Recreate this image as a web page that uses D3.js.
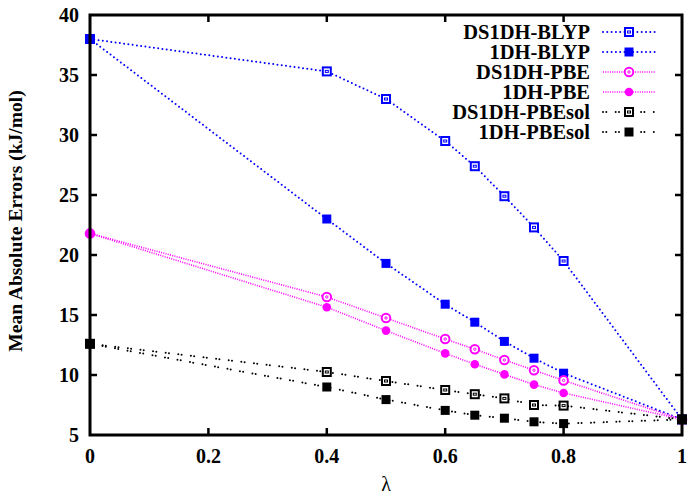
<!DOCTYPE html>
<meta charset="utf-8">
<script src="https://d3js.org/d3.v7.min.js"></script>
<style>
  body { margin: 0; background: #fff; }
  text { font-family: "Liberation Serif", "DejaVu Serif", serif; font-weight: bold; }
</style>
<div id="chart"></div>
<script>
    // lambda values
    const lambdas = [0, 0.4, 0.5, 0.6, 0.65, 0.7, 0.75, 0.8, 1];

    // mean absolute errors per functional (kJ/mol)
    const ds1dhBlyp = [38.0, 35.3, 33.0, 29.5, 27.4, 24.9, 22.3, 19.5, 6.3];
    const oneDhBlyp = [38.0, 23.0, 19.3, 15.9, 14.4, 12.8, 11.4, 10.15, 6.3];
    const ds1dhPbe = [21.8, 16.5, 14.75, 13.0, 12.15, 11.25, 10.4, 9.55, 6.3];
    const oneDhPbe = [21.8, 15.65, 13.7, 11.8, 10.9, 10.05, 9.2, 8.5, 6.3];
    const ds1dhPbesol = [12.6, 10.25, 9.5, 8.75, 8.4, 8.05, 7.5, 7.45, 6.3];
    const oneDhPbesol = [12.6, 9.0, 7.95, 7.05, 6.65, 6.4, 6.1, 5.95, 6.3];

    const xTicks = [0, 0.2, 0.4, 0.6, 0.8, 1];
    const yTicks = [5, 10, 15, 20, 25, 30, 35, 40];

    const series = [
        { name: "DS1DH-BLYP", values: ds1dhBlyp, color: "#0000ff", marker: "openSquare", dash: "0,4.3", lw: 2, cap: "round" },
        { name: "1DH-BLYP", values: oneDhBlyp, color: "#0000ff", marker: "square", dash: "0,4.3", lw: 2, cap: "round" },
        { name: "DS1DH-PBE", values: ds1dhPbe, color: "#ff00ff", marker: "openCircle", dash: "1,1.3", lw: 1.6, cap: "butt" },
        { name: "1DH-PBE", values: oneDhPbe, color: "#ff00ff", marker: "circle", dash: "1,1.3", lw: 1.6, cap: "butt" },
        { name: "DS1DH-PBEsol", values: ds1dhPbesol, color: "#000000", marker: "openSquare", dash: "0,3.3,0,9.4", lw: 2, cap: "round" },
        { name: "1DH-PBEsol", values: oneDhPbesol, color: "#000000", marker: "square", dash: "0,3.3,0,9.4", lw: 2, cap: "round" }
    ];

    const margin = { top: 15, right: 6, bottom: 62, left: 90 },
        width = 688 - margin.left - margin.right,
        height = 497 - margin.top - margin.bottom;

    const svg = d3.select("#chart")
        .append("svg")
        .attr("width", 688)
        .attr("height", 497)
        .append("g")
        .attr("transform", `translate(${margin.left}, ${margin.top})`);

    const x = d3.scaleLinear().domain([0, 1]).range([0, width]);
    const y = d3.scaleLinear().domain([5, 40]).range([height, 0]);

    // ticks (inward, mirrored)
    const tickLen = 7;
    xTicks.slice(1, -1).forEach(function (t) {
        svg.append("line").attr("x1", x(t)).attr("x2", x(t)).attr("y1", height).attr("y2", height - tickLen)
            .attr("stroke", "#000").attr("stroke-width", 2.5);
        svg.append("line").attr("x1", x(t)).attr("x2", x(t)).attr("y1", 0).attr("y2", tickLen)
            .attr("stroke", "#000").attr("stroke-width", 2.5);
    });
    yTicks.slice(1, -1).forEach(function (t) {
        svg.append("line").attr("x1", 0).attr("x2", tickLen).attr("y1", y(t)).attr("y2", y(t))
            .attr("stroke", "#000").attr("stroke-width", 2.5);
        svg.append("line").attr("x1", width).attr("x2", width - tickLen).attr("y1", y(t)).attr("y2", y(t))
            .attr("stroke", "#000").attr("stroke-width", 2.5);
    });

    // tick labels
    svg.selectAll(".xlab").data(xTicks).join("text")
        .attr("x", d => x(d)).attr("y", height + 28)
        .attr("text-anchor", "middle").style("font-size", "20px")
        .text(d => d);
    svg.selectAll(".ylab").data(yTicks).join("text")
        .attr("x", -11).attr("y", d => y(d) + 7)
        .attr("text-anchor", "end").style("font-size", "20px")
        .text(d => d);

    // axis titles
    svg.append("text")
        .attr("x", width / 2).attr("y", height + 56)
        .attr("text-anchor", "middle").style("font-size", "20px").style("font-weight", "normal")
        .text("λ");
    svg.append("text")
        .attr("transform", `translate(${-68}, ${height / 2 - 4}) rotate(-90)`)
        .attr("text-anchor", "middle").style("font-size", "19.5px")
        .text("Mean Absolute Errors (kJ/mol)");

    const line = d3.line()
        .x((d, i) => x(lambdas[i]))
        .y(d => y(d));

    function drawMarker(g, kind, cx, cy, color) {
        if (kind === "openSquare") {
            g.append("rect").attr("x", cx - 4).attr("y", cy - 4).attr("width", 8).attr("height", 8)
                .attr("fill", "#fff").attr("stroke", color).attr("stroke-width", 2);
            g.append("rect").attr("x", cx - 1.5).attr("y", cy - 1).attr("width", 3).attr("height", 2)
                .attr("fill", "none").attr("stroke", color).attr("stroke-width", 1);
        } else if (kind === "square") {
            g.append("rect").attr("x", cx - 4.5).attr("y", cy - 4.5).attr("width", 9).attr("height", 9)
                .attr("fill", color);
        } else if (kind === "openCircle") {
            g.append("circle").attr("cx", cx).attr("cy", cy).attr("r", 4.3)
                .attr("fill", "#fff").attr("stroke", color).attr("stroke-width", 2);
            g.append("circle").attr("cx", cx).attr("cy", cy).attr("r", 1.2)
                .attr("fill", "none").attr("stroke", color).attr("stroke-width", 1);
        } else {
            g.append("circle").attr("cx", cx).attr("cy", cy).attr("r", 4.3).attr("fill", color);
        }
    }

    // series lines and markers
    series.forEach(function (s) {
        svg.append("path")
            .datum(s.values)
            .attr("d", line)
            .attr("fill", "none")
            .attr("stroke", s.color)
            .attr("stroke-width", s.lw)
            .attr("stroke-linecap", s.cap)
            .attr("stroke-dasharray", s.dash);
        const g = svg.append("g");
        s.values.forEach(function (v, i) {
            drawMarker(g, s.marker, x(lambdas[i]), y(v), s.color);
        });
    });

    // legend
    const legend = svg.append("g").attr("transform", `translate(${500}, ${17})`);
    series.forEach(function (s, i) {
        const ly = i * 20;
        legend.append("text")
            .attr("x", 0).attr("y", ly + 7)
            .attr("text-anchor", "end").style("font-size", "20.5px")
            .text(s.name);
        legend.append("line")
            .attr("x1", 13).attr("x2", 66).attr("y1", ly).attr("y2", ly)
            .attr("stroke", s.color).attr("stroke-width", s.lw)
            .attr("stroke-linecap", s.cap)
            .attr("stroke-dasharray", s.dash);
        drawMarker(legend, s.marker, 39, ly, s.color);
    });

    // frame
    svg.append("rect")
        .attr("x", 0).attr("y", 0).attr("width", width).attr("height", height)
        .attr("fill", "none").attr("stroke", "#000").attr("stroke-width", 3);
</script>
